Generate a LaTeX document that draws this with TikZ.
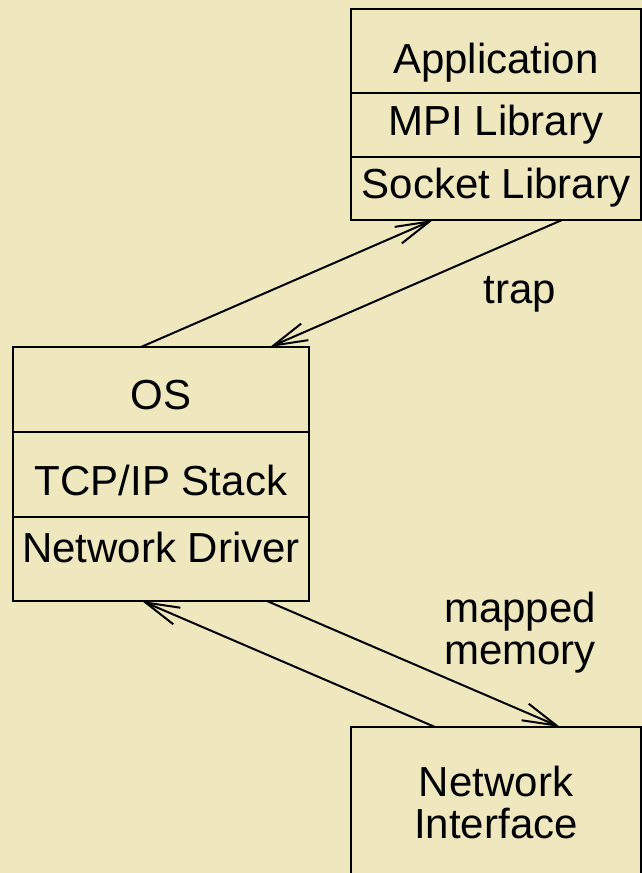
\documentclass[tikz,border=0pt]{standalone}
\usepackage{fontspec}
\setmainfont{Liberation Sans}
\usetikzlibrary{positioning, arrows.meta}
\definecolor{paper}{RGB}{239,231,190}
\tikzstyle{box} = [rectangle, draw, line width=1pt, inner sep=0pt, outer sep=0pt, align=center]
\tikzstyle{cell} = [box, text height=15pt, text depth=5pt]
\tikzstyle{link} = [line width=1pt, -{Straight Barb[length=17pt, width=9pt]}]

\begin{document}
\begin{tikzpicture}[
    x=0.5pt, y=-0.5pt,
    every node/.style={font=\fontsize{21}{21}\selectfont}
]
    \fill[paper] (0,0) rectangle (642,873);
    \useasboundingbox (0,0) rectangle (642,873);

    \node[cell, anchor=north west, minimum width=145pt, minimum height=42pt, text height=27pt] (app) at (351,9) {Application};
    \node[cell, below=0pt of app, minimum width=145pt, minimum height=32pt] (mpi) {MPI Library};
    \node[cell, below=0pt of mpi, minimum width=145pt, minimum height=31.5pt] (sock) {Socket Library};

    \node[cell, anchor=north west, minimum width=148pt, minimum height=42.5pt, text height=25pt] (os) at (13,347) {OS};
    \node[cell, below=0pt of os, minimum width=148pt, minimum height=42.5pt, text height=26pt] (tcp) {TCP/IP Stack};
    \node[cell, below=0pt of tcp, minimum width=148pt, minimum height=42pt, text depth=12pt] (drv) {Network Driver};

    \node[box, anchor=north west, minimum width=145pt, minimum height=75pt] (nic) at (351,727) {Network\\Interface};

    \draw[link] ([xshift=64pt]os.north west) -- ([xshift=41pt]sock.south west);
    \draw[link] ([xshift=105.5pt]sock.south west) -- ([xshift=128.5pt]os.north west);
    \draw[link] ([xshift=42pt]nic.north west) -- ([xshift=64.5pt]drv.south west);
    \draw[link] ([xshift=127pt]drv.south west) -- ([xshift=104.5pt]nic.north west);

    \node[text height=15pt, text depth=5pt, inner sep=0pt] (trap) at (520,293) {trap};
    \node[align=center, inner sep=0pt] (mem) at (520,633) {mapped\\memory};
\end{tikzpicture}
\end{document}
